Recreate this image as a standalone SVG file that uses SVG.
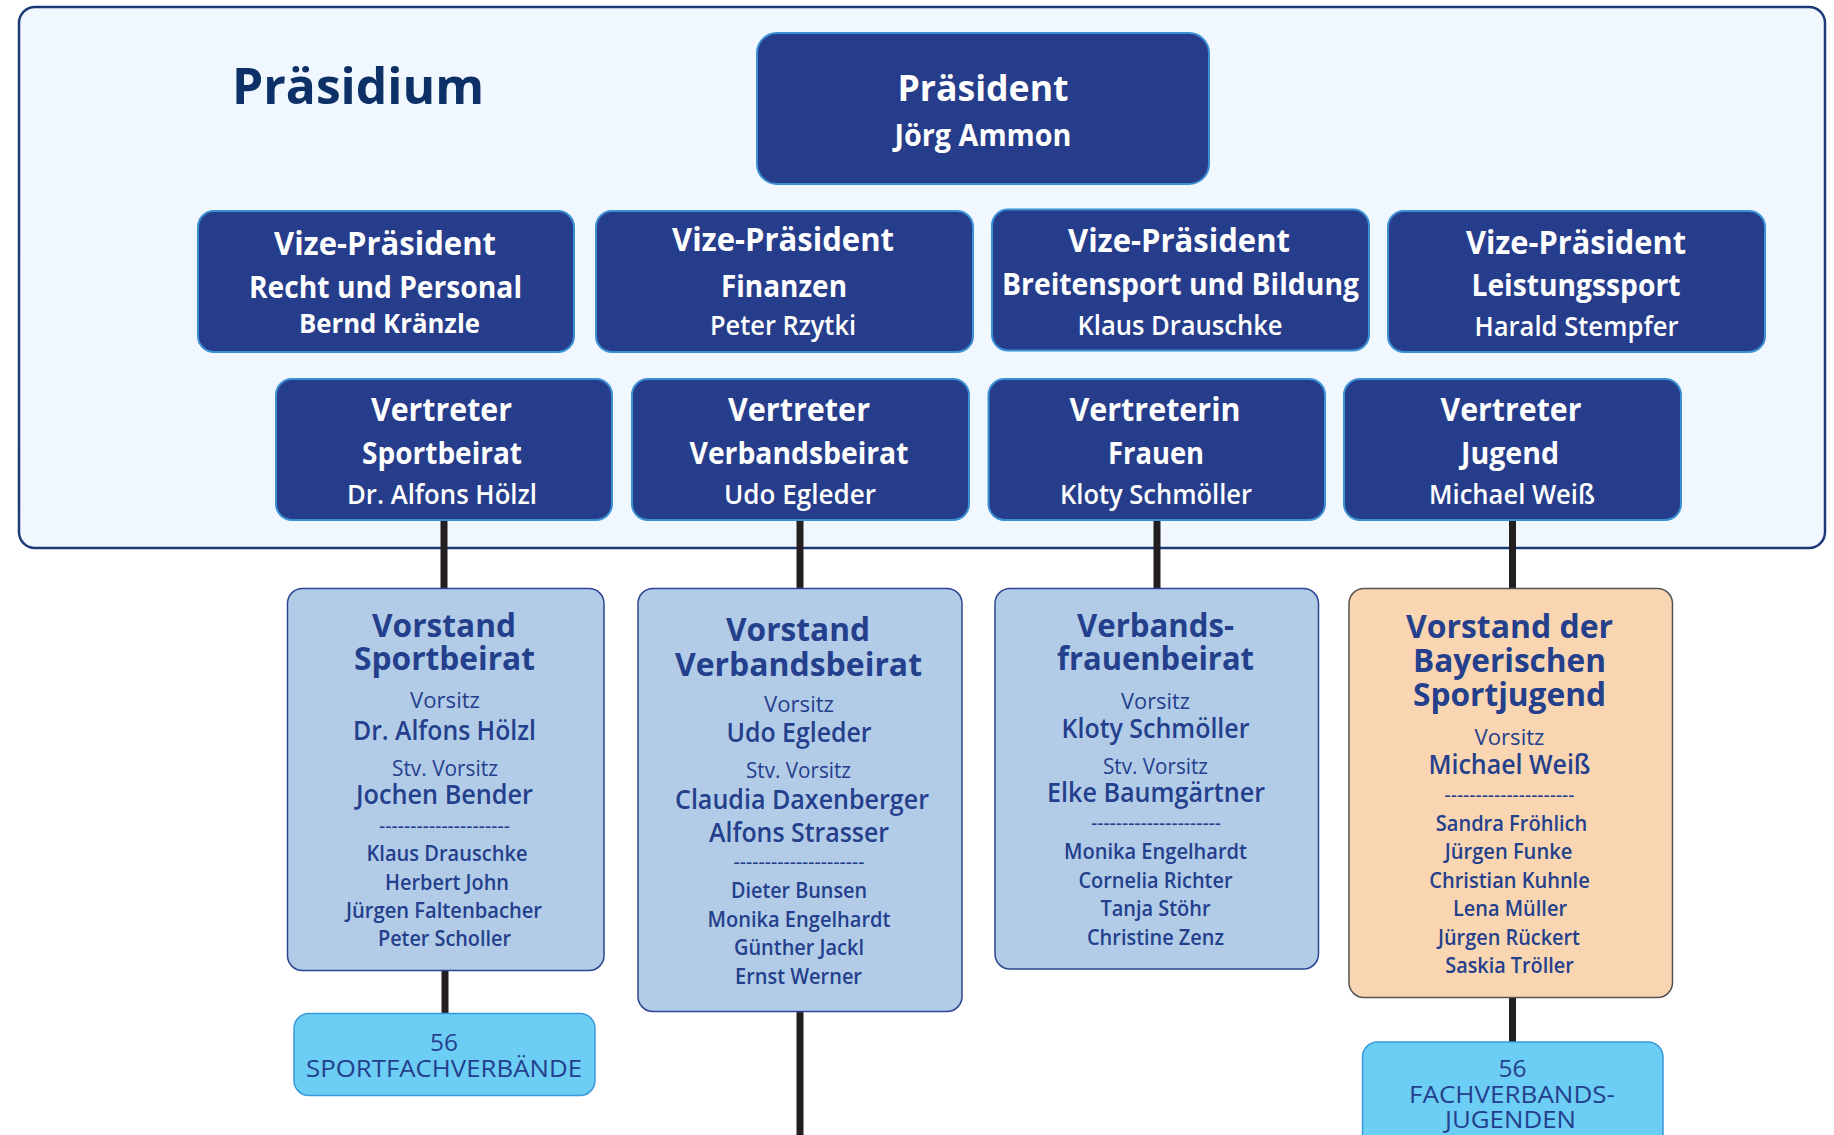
<svg xmlns="http://www.w3.org/2000/svg" width="1834" height="1135" viewBox="0 0 1834 1135">
<style>
text{font-family:"Open Sans","Noto Sans","Liberation Sans",sans-serif;text-anchor:middle}
.dk{fill:#263d8b;stroke:#3b8fd3;stroke-width:2}
.lt{fill:#b2cce8;stroke:#2c4592;stroke-width:1.5}
.or{fill:#f9d6b1;stroke:#555555;stroke-width:1.5}
.cy{fill:#6ccdf5;stroke:#3a9ad9;stroke-width:1.5}
.w1{fill:#ffffff;font-size:33px;font-weight:700}
.w2{fill:#ffffff;font-size:30px;font-weight:700}
.w3{fill:#ffffff;font-size:27px;font-weight:600}
.h{fill:#243f8c;font-size:32px;font-weight:700}
.s{fill:#243f8c;font-size:21px;font-weight:500}
.n{fill:#243f8c;font-size:27px;font-weight:600}
.m{fill:#243f8c;font-size:21px;font-weight:600}
.c{fill:#243f8c;font-size:23px;font-weight:500}
.con{stroke:#231f20;stroke-width:7;fill:none}
</style>
<rect x="0" y="0" width="1834" height="1135" fill="#ffffff"/>
<g id="praesidium">
<rect x="19" y="7" width="1806" height="541" rx="16" fill="#f0f7fe" stroke="#1c3a78" stroke-width="2.5"/>
<text x="358" y="103.5" style="font-size:50px;font-weight:700;fill:#0d3166" textLength="252" lengthAdjust="spacingAndGlyphs">Präsidium</text>
</g>
<g id="connectors">
<line class="con" x1="444" y1="520" x2="444" y2="589"/>
<line class="con" x1="445" y1="970" x2="445" y2="1014"/>
<line class="con" x1="800" y1="520" x2="800" y2="589"/>
<line class="con" x1="800" y1="1011" x2="800" y2="1135"/>
<line class="con" x1="1157" y1="520" x2="1157" y2="589"/>
<line class="con" x1="1512.5" y1="520" x2="1512.5" y2="589"/>
<line class="con" x1="1512.5" y1="997" x2="1512.5" y2="1042"/>
</g>
<g id="praesident">
<rect class="dk" x="757" y="33" width="452" height="151" rx="20"/>
<text class="w1" x="983" y="101" style="font-size:36px" textLength="171" lengthAdjust="spacingAndGlyphs">Präsident</text>
<text class="w2" x="983" y="146" textLength="177" lengthAdjust="spacingAndGlyphs">Jörg Ammon</text>
</g>
<g id="vp-recht">
<rect class="dk" x="198" y="211" width="376" height="141" rx="16"/>
<text class="w1" x="385" y="255" textLength="222" lengthAdjust="spacingAndGlyphs">Vize-Präsident</text>
<text class="w2" x="385.5" y="298" textLength="273" lengthAdjust="spacingAndGlyphs">Recht und Personal</text>
<text class="w3" x="389.5" y="333" style="font-weight:700" textLength="181" lengthAdjust="spacingAndGlyphs">Bernd Kränzle</text>
</g>
<g id="vp-finanzen">
<rect class="dk" x="596" y="211" width="377" height="141" rx="16"/>
<text class="w1" x="783" y="251" textLength="222" lengthAdjust="spacingAndGlyphs">Vize-Präsident</text>
<text class="w2" x="784" y="296.5" textLength="126" lengthAdjust="spacingAndGlyphs">Finanzen</text>
<text class="w3" x="783" y="335" textLength="146" lengthAdjust="spacingAndGlyphs">Peter Rzytki</text>
</g>
<g id="vp-breitensport">
<rect class="dk" x="992" y="209.5" width="377" height="141" rx="16"/>
<text class="w1" x="1179" y="252" textLength="222" lengthAdjust="spacingAndGlyphs">Vize-Präsident</text>
<text class="w2" x="1180.5" y="295" textLength="357" lengthAdjust="spacingAndGlyphs">Breitensport und Bildung</text>
<text class="w3" x="1180" y="335" textLength="205" lengthAdjust="spacingAndGlyphs">Klaus Drauschke</text>
</g>
<g id="vp-leistungssport">
<rect class="dk" x="1388" y="211" width="377" height="141" rx="16"/>
<text class="w1" x="1576" y="253.5" textLength="220" lengthAdjust="spacingAndGlyphs">Vize-Präsident</text>
<text class="w2" x="1576" y="296" textLength="209" lengthAdjust="spacingAndGlyphs">Leistungssport</text>
<text class="w3" x="1576.5" y="336" textLength="204" lengthAdjust="spacingAndGlyphs">Harald Stempfer</text>
</g>
<g id="vertreter-sportbeirat">
<rect class="dk" x="276" y="379" width="336" height="141" rx="16"/>
<text class="w1" x="441.5" y="421" textLength="141" lengthAdjust="spacingAndGlyphs">Vertreter</text>
<text class="w2" x="442" y="464" textLength="160" lengthAdjust="spacingAndGlyphs">Sportbeirat</text>
<text class="w3" x="442" y="504" textLength="190" lengthAdjust="spacingAndGlyphs">Dr. Alfons Hölzl</text>
</g>
<g id="vertreter-verbandsbeirat">
<rect class="dk" x="632" y="379" width="337" height="141" rx="16"/>
<text class="w1" x="799" y="421" textLength="142" lengthAdjust="spacingAndGlyphs">Vertreter</text>
<text class="w2" x="799" y="464" textLength="219" lengthAdjust="spacingAndGlyphs">Verbandsbeirat</text>
<text class="w3" x="800" y="504" textLength="152" lengthAdjust="spacingAndGlyphs">Udo Egleder</text>
</g>
<g id="vertreterin-frauen">
<rect class="dk" x="988.5" y="379" width="336.5" height="141" rx="16"/>
<text class="w1" x="1155" y="421" textLength="171" lengthAdjust="spacingAndGlyphs">Vertreterin</text>
<text class="w2" x="1156" y="464" textLength="96" lengthAdjust="spacingAndGlyphs">Frauen</text>
<text class="w3" x="1156" y="504" textLength="192" lengthAdjust="spacingAndGlyphs">Kloty Schmöller</text>
</g>
<g id="vertreter-jugend">
<rect class="dk" x="1344" y="379" width="337" height="141" rx="16"/>
<text class="w1" x="1511" y="421" textLength="141" lengthAdjust="spacingAndGlyphs">Vertreter</text>
<text class="w2" x="1510" y="464" textLength="98" lengthAdjust="spacingAndGlyphs">Jugend</text>
<text class="w3" x="1512" y="504" textLength="166" lengthAdjust="spacingAndGlyphs">Michael Weiß</text>
</g>
<g id="vorstand-sportbeirat">
<rect class="lt" x="287.5" y="588.5" width="316.5" height="382" rx="15"/>
<text class="h" x="444" y="637" textLength="144" lengthAdjust="spacingAndGlyphs">Vorstand</text>
<text class="h" x="444.5" y="670" textLength="181" lengthAdjust="spacingAndGlyphs">Sportbeirat</text>
<text class="s" x="445" y="708" textLength="70" lengthAdjust="spacingAndGlyphs">Vorsitz</text>
<text class="n" x="444.5" y="740" textLength="183" lengthAdjust="spacingAndGlyphs">Dr. Alfons Hölzl</text>
<text class="s" x="445" y="776" textLength="106" lengthAdjust="spacingAndGlyphs">Stv. Vorsitz</text>
<text class="n" x="444.5" y="804" textLength="177" lengthAdjust="spacingAndGlyphs">Jochen Bender</text>
<text class="s" x="444.5" y="833" textLength="131" lengthAdjust="spacingAndGlyphs">---------------------</text>
<text class="m" x="447" y="861" textLength="161" lengthAdjust="spacingAndGlyphs">Klaus Drauschke</text>
<text class="m" x="447" y="890" textLength="124" lengthAdjust="spacingAndGlyphs">Herbert John</text>
<text class="m" x="444" y="918" textLength="196" lengthAdjust="spacingAndGlyphs">Jürgen Faltenbacher</text>
<text class="m" x="444.5" y="946" textLength="133" lengthAdjust="spacingAndGlyphs">Peter Scholler</text>
</g>
<g id="vorstand-verbandsbeirat">
<rect class="lt" x="638" y="588.5" width="324" height="423" rx="15"/>
<text class="h" x="798" y="641" textLength="144" lengthAdjust="spacingAndGlyphs">Vorstand</text>
<text class="h" x="798.5" y="675.5" textLength="247" lengthAdjust="spacingAndGlyphs">Verbandsbeirat</text>
<text class="s" x="799" y="712" textLength="70" lengthAdjust="spacingAndGlyphs">Vorsitz</text>
<text class="n" x="799" y="741.5" textLength="145" lengthAdjust="spacingAndGlyphs">Udo Egleder</text>
<text class="s" x="798.5" y="777.5" textLength="105" lengthAdjust="spacingAndGlyphs">Stv. Vorsitz</text>
<text class="n" x="802" y="808.5" textLength="254" lengthAdjust="spacingAndGlyphs">Claudia Daxenberger</text>
<text class="n" x="799" y="841.5" textLength="180" lengthAdjust="spacingAndGlyphs">Alfons Strasser</text>
<text class="s" x="799" y="869" textLength="131" lengthAdjust="spacingAndGlyphs">---------------------</text>
<text class="m" x="799" y="898" textLength="136" lengthAdjust="spacingAndGlyphs">Dieter Bunsen</text>
<text class="m" x="799" y="926.5" textLength="183" lengthAdjust="spacingAndGlyphs">Monika Engelhardt</text>
<text class="m" x="799" y="955" textLength="130" lengthAdjust="spacingAndGlyphs">Günther Jackl</text>
<text class="m" x="798.5" y="983.5" textLength="127" lengthAdjust="spacingAndGlyphs">Ernst Werner</text>
</g>
<g id="verbandsfrauenbeirat">
<rect class="lt" x="995" y="588.5" width="323.5" height="380.5" rx="15"/>
<text class="h" x="1155.5" y="637" textLength="157" lengthAdjust="spacingAndGlyphs">Verbands-</text>
<text class="h" x="1155.5" y="670" textLength="197" lengthAdjust="spacingAndGlyphs">frauenbeirat</text>
<text class="s" x="1155.5" y="708.5" textLength="69" lengthAdjust="spacingAndGlyphs">Vorsitz</text>
<text class="n" x="1155.5" y="738" textLength="188" lengthAdjust="spacingAndGlyphs">Kloty Schmöller</text>
<text class="s" x="1155.5" y="774" textLength="105" lengthAdjust="spacingAndGlyphs">Stv. Vorsitz</text>
<text class="n" x="1156" y="802" textLength="218" lengthAdjust="spacingAndGlyphs">Elke Baumgärtner</text>
<text class="s" x="1156" y="829.5" textLength="130" lengthAdjust="spacingAndGlyphs">---------------------</text>
<text class="m" x="1155.5" y="859" textLength="183" lengthAdjust="spacingAndGlyphs">Monika Engelhardt</text>
<text class="m" x="1155.5" y="887.5" textLength="154" lengthAdjust="spacingAndGlyphs">Cornelia Richter</text>
<text class="m" x="1155.5" y="915.5" textLength="110" lengthAdjust="spacingAndGlyphs">Tanja Stöhr</text>
<text class="m" x="1155.5" y="944.5" textLength="137" lengthAdjust="spacingAndGlyphs">Christine Zenz</text>
</g>
<g id="vorstand-sportjugend">
<rect class="or" x="1349" y="588.5" width="323.5" height="409" rx="15"/>
<text class="h" x="1509.5" y="637.5" textLength="207" lengthAdjust="spacingAndGlyphs">Vorstand der</text>
<text class="h" x="1509.5" y="672" textLength="193" lengthAdjust="spacingAndGlyphs">Bayerischen</text>
<text class="h" x="1509.5" y="706" textLength="193" lengthAdjust="spacingAndGlyphs">Sportjugend</text>
<text class="s" x="1509.5" y="744.5" textLength="70" lengthAdjust="spacingAndGlyphs">Vorsitz</text>
<text class="n" x="1509.5" y="774" textLength="162" lengthAdjust="spacingAndGlyphs">Michael Weiß</text>
<text class="s" x="1509.5" y="801.5" textLength="130" lengthAdjust="spacingAndGlyphs">---------------------</text>
<text class="m" x="1511.5" y="830.5" textLength="151.5" lengthAdjust="spacingAndGlyphs">Sandra Fröhlich</text>
<text class="m" x="1508.5" y="859" textLength="127.5" lengthAdjust="spacingAndGlyphs">Jürgen Funke</text>
<text class="m" x="1509.5" y="887.5" textLength="160.5" lengthAdjust="spacingAndGlyphs">Christian Kuhnle</text>
<text class="m" x="1510" y="915.5" textLength="114" lengthAdjust="spacingAndGlyphs">Lena Müller</text>
<text class="m" x="1509" y="944.5" textLength="142" lengthAdjust="spacingAndGlyphs">Jürgen Rückert</text>
<text class="m" x="1509.5" y="972.5" textLength="128.5" lengthAdjust="spacingAndGlyphs">Saskia Tröller</text>
</g>
<g id="sportfachverbaende">
<rect class="cy" x="294" y="1013.5" width="301" height="82" rx="15"/>
<text class="c" x="444" y="1051" textLength="28" lengthAdjust="spacingAndGlyphs">56</text>
<text class="c" x="444" y="1077" textLength="276" lengthAdjust="spacingAndGlyphs">SPORTFACHVERBÄNDE</text>
</g>
<g id="fachverbandsjugenden">
<rect class="cy" x="1362.5" y="1042" width="300.5" height="110" rx="15"/>
<text class="c" x="1512.5" y="1076.5" textLength="28" lengthAdjust="spacingAndGlyphs">56</text>
<text class="c" x="1512" y="1102.5" textLength="206" lengthAdjust="spacingAndGlyphs">FACHVERBANDS-</text>
<text class="c" x="1510.5" y="1128" textLength="131" lengthAdjust="spacingAndGlyphs">JUGENDEN</text>
</g>
</svg>
